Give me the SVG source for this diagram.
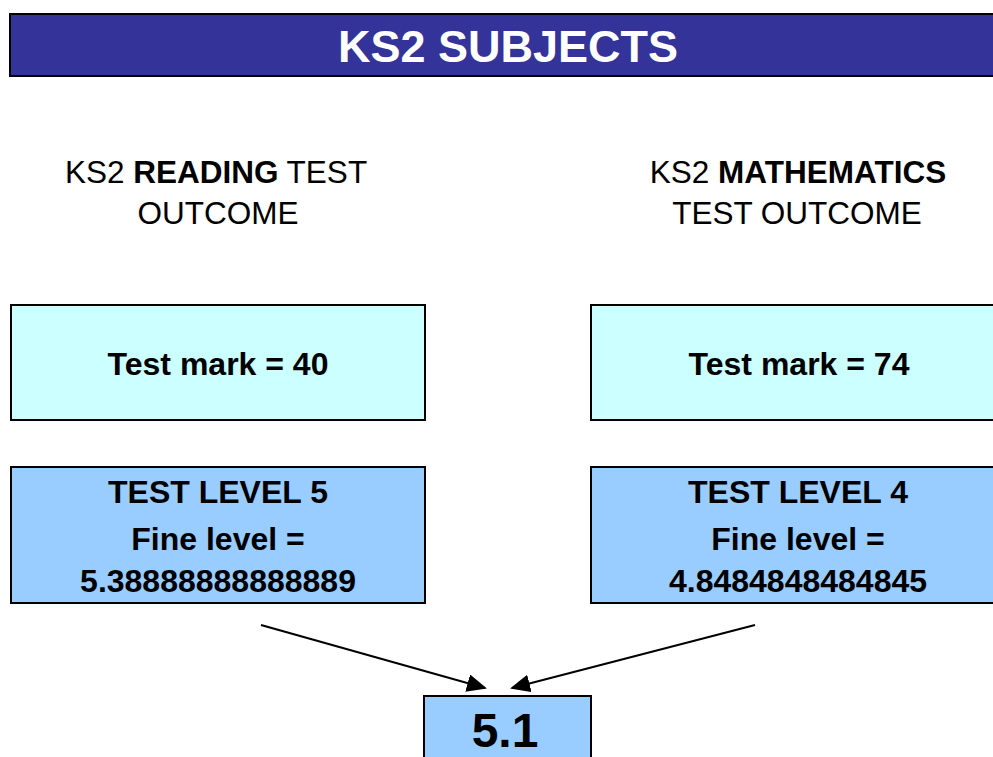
<svg xmlns="http://www.w3.org/2000/svg" width="993" height="757" viewBox="0 0 993 757">
<style>
text{font-family:"Liberation Sans",Arial,sans-serif;fill:#000;text-anchor:middle}
.box{stroke:#000;stroke-width:2}
.mark{fill:#CCFFFF}
.lvl{fill:#99CCFF}
.b{font-weight:bold}
.t32{font-size:32px;font-weight:bold}
.h{font-size:31.5px}
.conn{stroke:#000;stroke-width:2;fill:none;marker-end:url(#ah)}
</style>
<defs>
<marker id="ah" markerWidth="20" markerHeight="18" refX="18" refY="9" orient="auto" markerUnits="userSpaceOnUse">
<path d="M0,0 L20,9 L0,18 Z" fill="#000"/>
</marker>
</defs>
<rect x="0" y="0" width="993" height="757" fill="#fff"/>
<g id="header">
<rect x="10" y="14" width="990" height="62" fill="#333399" class="box"/>
<text x="508" y="62" style="font-size:45px;font-weight:bold;fill:#fff">KS2 SUBJECTS</text>
</g>
<g id="reading-title">
<text class="h" x="216" y="183">KS2 <tspan class="b">READING</tspan> TEST</text>
<text class="h" x="218" y="224">OUTCOME</text>
</g>
<g id="maths-title">
<text class="h" x="798" y="183">KS2 <tspan class="b">MATHEMATICS</tspan></text>
<text class="h" x="797" y="224">TEST OUTCOME</text>
</g>
<g id="reading-mark">
<rect class="box mark" x="11" y="305" width="414" height="115"/>
<text class="t32" x="218" y="375">Test mark = 40</text>
</g>
<g id="maths-mark">
<rect class="box mark" x="591" y="305" width="414" height="115"/>
<text class="t32" x="799" y="375">Test mark = 74</text>
</g>
<g id="reading-level">
<rect class="box lvl" x="11" y="467" width="414" height="136"/>
<text class="t32" x="218" y="503">TEST LEVEL 5</text>
<text class="t32" x="218" y="550">Fine level =</text>
<text class="t32" x="218" y="592">5.38888888888889</text>
</g>
<g id="maths-level">
<rect class="box lvl" x="591" y="467" width="414" height="136"/>
<text class="t32" x="798" y="503">TEST LEVEL 4</text>
<text class="t32" x="798" y="550">Fine level =</text>
<text class="t32" x="798" y="592">4.8484848484845</text>
</g>
<g id="result">
<rect class="box lvl" x="424" y="696" width="167" height="70"/>
<text x="505" y="747" style="font-size:48px;font-weight:bold">5.1</text>
</g>
<g id="connectors">
<line class="conn" x1="261" y1="625" x2="485" y2="688"/>
<line class="conn" x1="755" y1="625" x2="512" y2="688"/>
</g>
</svg>
